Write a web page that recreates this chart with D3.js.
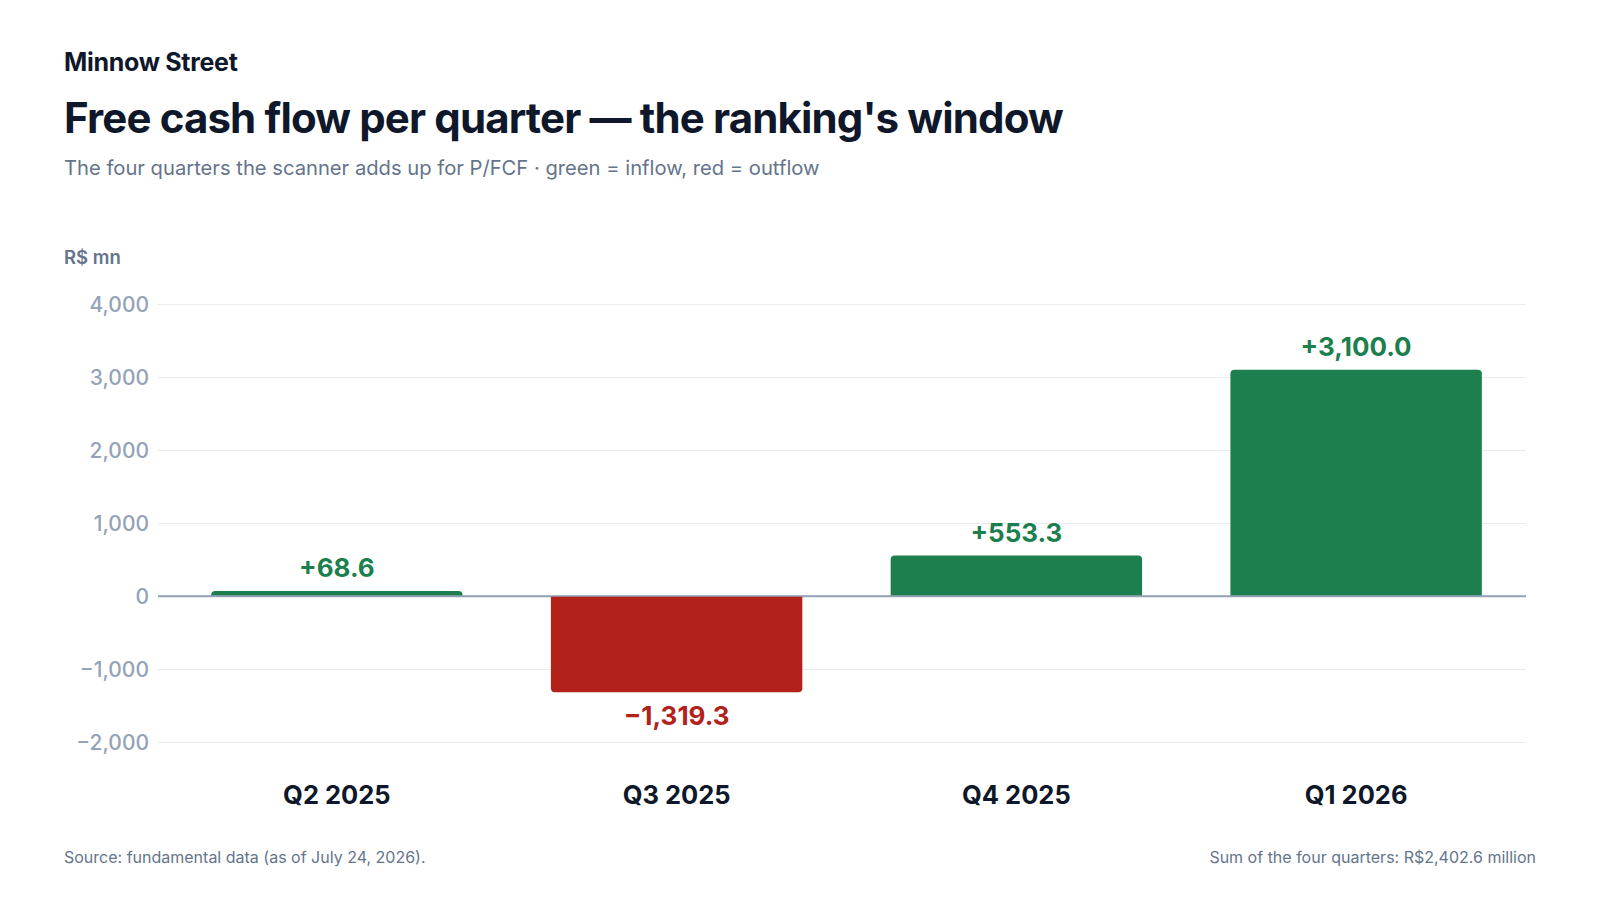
<!DOCTYPE html>
<html>
<head>
<meta charset="utf-8">
<script src="https://cdn.jsdelivr.net/npm/d3@7"></script>
<style>
  body { margin: 0; background: #ffffff; }
  svg { display: block; font-family: Inter, "Noto Sans", sans-serif; }
</style>
</head>
<body>
<svg id="chart" width="1600" height="900"></svg>
<script>
// chart values
var quarters = ['Q2 2025', 'Q3 2025', 'Q4 2025', 'Q1 2026'];
var fcf = [68.6, -1319.3, 553.3, 3100.0];
var yTicks = [-2000, -1000, 0, 1000, 2000, 3000, 4000];

var svg = d3.select('#chart');
var green = '#1c7f4d', red = '#b2221a';

var x = d3.scaleBand()
    .domain(quarters)
    .range([167, 1526])
    .paddingInner(0.26)
    .paddingOuter(0.13);
var y = d3.scaleLinear()
    .domain([-2000, 4000])
    .range([742, 304]);

// header
svg.append('text').attr('x', 64).attr('y', 71)
    .attr('font-size', 25).attr('font-weight', 700).attr('fill', '#0f172a')
    .attr('letter-spacing', '-0.3')
    .text('Minnow Street');
svg.append('text').attr('x', 64).attr('y', 133)
    .attr('font-size', 42).attr('font-weight', 700).attr('fill', '#0f172a')
    .attr('letter-spacing', '-0.85')
    .text("Free cash flow per quarter \u2014 the ranking's window");
svg.append('text').attr('x', 64).attr('y', 175)
    .attr('font-size', 20.2).attr('fill', '#64748b')
    .text('The four quarters the scanner adds up for P/FCF \u00b7 green = inflow, red = outflow');
svg.append('text').attr('x', 64).attr('y', 264)
    .attr('font-size', 18.5).attr('font-weight', 600).attr('fill', '#64748b')
    .text('R$ mn');

// grid + y axis
var yAxis = svg.append('g')
    .attr('transform', 'translate(158,0)')
    .call(d3.axisLeft(y).tickValues(yTicks).tickSize(-1368)
        .tickFormat(function(d) { return d3.format(',')(d).replace('-', '\u2212'); }));
yAxis.select('.domain').remove();
yAxis.selectAll('.tick line')
    .attr('stroke', function(d) { return d === 0 ? '#94a3b8' : '#e9edf2'; })
    .attr('stroke-width', function(d) { return d === 0 ? 1.5 : 1.2; });
yAxis.selectAll('.tick text')
    .attr('x', -9).attr('dy', '0.35em')
    .attr('font-family', 'Inter, sans-serif')
    .attr('font-size', 21).attr('font-weight', 500).attr('fill', '#94a3b8');

// bars with rounded outer end
function barPath(d, i) {
    var x0 = x(quarters[i]), w = x.bandwidth();
    var y0 = y(0), y1 = y(d);
    var r = Math.min(4, Math.abs(y1 - y0));
    if (d >= 0) {
        return 'M' + x0 + ',' + y0 + 'V' + (y1 + r) + 'Q' + x0 + ',' + y1 + ' ' + (x0 + r) + ',' + y1 +
            'H' + (x0 + w - r) + 'Q' + (x0 + w) + ',' + y1 + ' ' + (x0 + w) + ',' + (y1 + r) + 'V' + y0 + 'Z';
    }
    return 'M' + x0 + ',' + y0 + 'V' + (y1 - r) + 'Q' + x0 + ',' + y1 + ' ' + (x0 + r) + ',' + y1 +
        'H' + (x0 + w - r) + 'Q' + (x0 + w) + ',' + y1 + ' ' + (x0 + w) + ',' + (y1 - r) + 'V' + y0 + 'Z';
}
svg.append('g').selectAll('path')
    .data(fcf)
    .enter().append('path')
    .attr('d', barPath)
    .attr('fill', function(d) { return d >= 0 ? green : red; });

// zero line on top
svg.append('line')
    .attr('x1', 158).attr('x2', 1526)
    .attr('y1', y(0)).attr('y2', y(0))
    .attr('stroke', '#94a3b8').attr('stroke-width', 1.5);

// value labels
var fmt = d3.format(',.1f');
svg.append('g').selectAll('text')
    .data(fcf)
    .enter().append('text')
    .attr('x', function(d, i) { return x(quarters[i]) + x.bandwidth() / 2; })
    .attr('y', function(d) { return d >= 0 ? y(d) - 14 : y(d) + 33; })
    .attr('text-anchor', 'middle')
    .attr('font-size', 26).attr('font-weight', 700)
    .attr('fill', function(d) { return d >= 0 ? green : red; })
    .text(function(d) { return (d >= 0 ? '+' : '\u2212') + fmt(Math.abs(d)); });

// category labels
svg.append('g').selectAll('text')
    .data(quarters)
    .enter().append('text')
    .attr('x', function(d) { return x(d) + x.bandwidth() / 2; })
    .attr('y', 804)
    .attr('text-anchor', 'middle')
    .attr('font-size', 25.5).attr('font-weight', 700).attr('fill', '#0f172a')
    .text(function(d) { return d; });

// footer
svg.append('text').attr('x', 64).attr('y', 863)
    .attr('font-size', 16).attr('fill', '#64748b')
    .text('Source: fundamental data (as of July 24, 2026).');
svg.append('text').attr('x', 1536).attr('y', 863)
    .attr('text-anchor', 'end')
    .attr('font-size', 16).attr('fill', '#64748b')
    .text('Sum of the four quarters: R$' + d3.format(',.1f')(d3.sum(fcf)) + ' million');
</script>
</body>
</html>
